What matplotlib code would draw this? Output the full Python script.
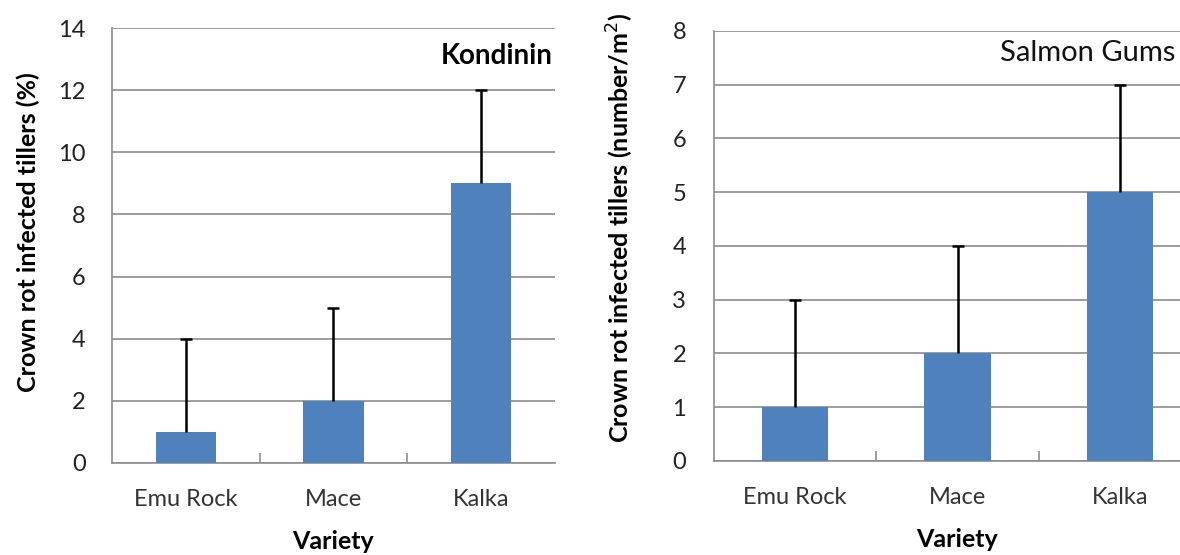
import matplotlib.pyplot as plt
import numpy as np

plt.rcParams['font.family'] = ['Lato', 'DejaVu Sans']

varieties = ["Emu Rock", "Mace", "Kalka"]
kondinin_pct = [1, 2, 9]
kondinin_err = [3, 3, 3]
salmon_num = [1, 2, 5]
salmon_err = [2, 2, 2]

BAR_BLUE = "#4F81BD"
GRID_GREY = "#8C8C8C"

fig = plt.figure(figsize=(11.8, 5.55), dpi=100)
ax1 = fig.add_axes([0.0949, 0.1658, 0.3754, 0.7837])
ax2 = fig.add_axes([0.6051, 0.1694, 0.4127, 0.7748])


def draw_panel(ax, values, errors, ymax, ystep, ylabel, label_xy, ypad):
    x = np.arange(len(varieties))
    ax.bar(x, values, width=0.41, color=BAR_BLUE, zorder=3)
    # upper error bars only, cap on the top end
    _, caps, _ = ax.errorbar(x, values, yerr=[np.zeros(len(errors)), errors],
                             fmt='none', ecolor='black', elinewidth=1.8,
                             capsize=4, capthick=1.8, zorder=4)
    caps[0].remove()
    ax.set_xlim(-0.5, len(varieties) - 0.5)
    ax.set_ylim(0, ymax)
    ax.set_yticks(np.arange(0, ymax + 0.5, ystep))
    ax.yaxis.grid(True, color=GRID_GREY, linewidth=1.2, zorder=0)
    ax.set_axisbelow(True)
    for side in ("top", "right"):
        ax.spines[side].set_visible(False)
    for side in ("left", "bottom"):
        ax.spines[side].set_color(GRID_GREY)
        ax.spines[side].set_linewidth(1.2)
    ax.set_xticks(x)
    ax.set_xticklabels(varieties, fontsize=17, color="#333333")
    ax.set_xticks(np.arange(0.5, len(varieties) - 0.5, 1), minor=True)
    ax.tick_params(axis='x', which='major', length=0, pad=19)
    ax.tick_params(axis='x', which='minor', direction='in', length=7,
                   color=GRID_GREY, width=1.2)
    ax.tick_params(axis='y', length=0, labelsize=17, pad=ypad,
                   labelcolor="#222222")
    ax.set_xlabel("Variety", fontsize=18, fontweight='bold', labelpad=14)
    ax.text(label_xy[0], label_xy[1], ylabel, transform=ax.transAxes,
            rotation=90, ha='center', va='center', fontsize=18,
            fontweight='bold')


draw_panel(ax1, kondinin_pct, kondinin_err, 14, 2,
           "Crown rot infected tillers (%)", (-0.19, 0.53), 19)
draw_panel(ax2, salmon_num, salmon_err, 8, 1,
           "Crown rot infected tillers (number/m$^2$)", (-0.193, 0.542), 20)

ax1.text(0.995, 0.935, "Kondinin", transform=ax1.transAxes, ha='right',
         va='center', fontsize=20, fontweight='bold')
fig.text(0.996, 0.905, "Salmon Gums", ha='right', va='center', fontsize=21,
         color="#111111")

fig.savefig("out.png", dpi=100)
